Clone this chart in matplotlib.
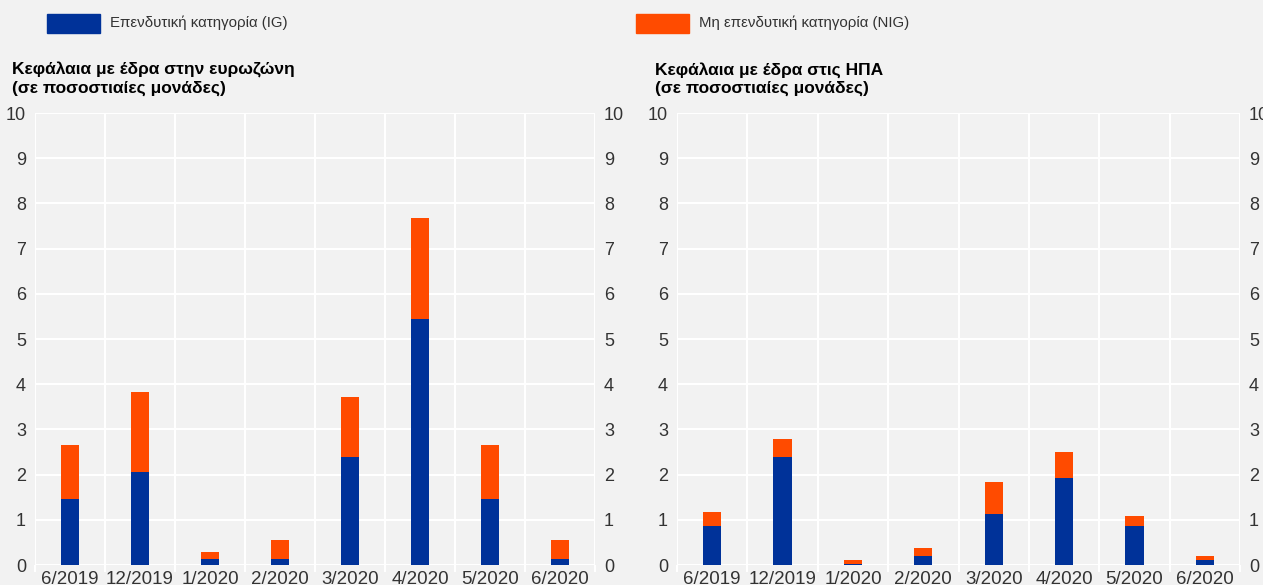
import numpy as np
import matplotlib.pyplot as plt
from matplotlib.patches import Rectangle

plt.rcParams['font.family'] = ['Liberation Sans', 'DejaVu Sans']

periods = ["6/2019", "12/2019", "1/2020", "2/2020", "3/2020", "4/2020", "5/2020", "6/2020"]

# euro area funds
ea_ig = [1.45, 2.05, 0.13, 0.13, 2.40, 5.45, 1.45, 0.13]
ea_nig = [1.20, 1.78, 0.15, 0.42, 1.32, 2.23, 1.20, 0.42]

# US funds
us_ig = [0.87, 2.40, 0.03, 0.20, 1.13, 1.93, 0.87, 0.10]
us_nig = [0.31, 0.38, 0.07, 0.17, 0.70, 0.57, 0.21, 0.11]

titles = ["Κεφάλαια με έδρα στην ευρωζώνη\n(σε ποσοστιαίες μονάδες)",
          "Κεφάλαια με έδρα στις ΗΠΑ\n(σε ποσοστιαίες μονάδες)"]
legend_labels = ["Επενδυτική κατηγορία (IG)", "Μη επενδυτική κατηγορία (NIG)"]

BLUE = "#003299"
ORANGE = "#FF4B00"
BG = "#F2F2F2"
TXT = "#333333"

fig = plt.figure(figsize=(12.63, 5.85), dpi=100, facecolor=BG)

def draw_panel(rect, ig, nig, title, title_x):
    ax = fig.add_axes(rect, facecolor=BG)
    x = np.arange(len(periods))
    ax.bar(x, ig, width=0.26, color=BLUE, zorder=3)
    ax.bar(x, nig, width=0.26, bottom=ig, color=ORANGE, zorder=3)
    ax.set_xlim(-0.5, len(periods) - 0.5)
    ax.set_ylim(0, 10)
    ax.set_yticks(range(0, 11))
    ax.set_xticks(x)
    ax.set_xticklabels(periods)
    ax.set_xticks(np.arange(-0.5, len(periods)), minor=True)
    ax.grid(axis="y", color="white", linewidth=1.5, zorder=0)
    ax.grid(axis="x", which="minor", color="white", linewidth=1.5, zorder=0)
    ax.tick_params(axis="y", left=False, right=False, labelleft=True, labelright=True,
                   labelsize=13, labelcolor=TXT, pad=3)
    ax.tick_params(axis="x", which="major", bottom=False, labelsize=13.5, labelcolor=TXT, pad=1)
    ax.tick_params(axis="x", which="minor", bottom=True, length=5, width=1.5, color="white")
    for s in ax.spines.values():
        s.set_visible(False)
    fig.text(title_x, 1 - 62 / 585, title, fontsize=12.5, fontweight="bold", color="black",
             va="top", ha="left", linespacing=1.25)
    return ax

draw_panel([35 / 1263, 20 / 585, 560 / 1263, 452 / 585], ea_ig, ea_nig, titles[0], 12 / 1263)
draw_panel([677 / 1263, 20 / 585, 563 / 1263, 452 / 585], us_ig, us_nig, titles[1], 655 / 1263)

# legend
for (px, label, col) in [(47, legend_labels[0], BLUE), (636, legend_labels[1], ORANGE)]:
    fig.patches.append(Rectangle((px / 1263, 1 - 33 / 585), 53 / 1263, 19 / 585,
                                 transform=fig.transFigure, color=col))
    fig.text((px + 63) / 1263, 1 - 23 / 585, label, fontsize=10.8, color=TXT, va="center", ha="left")

fig.savefig("out.png", dpi=100, facecolor=BG)
